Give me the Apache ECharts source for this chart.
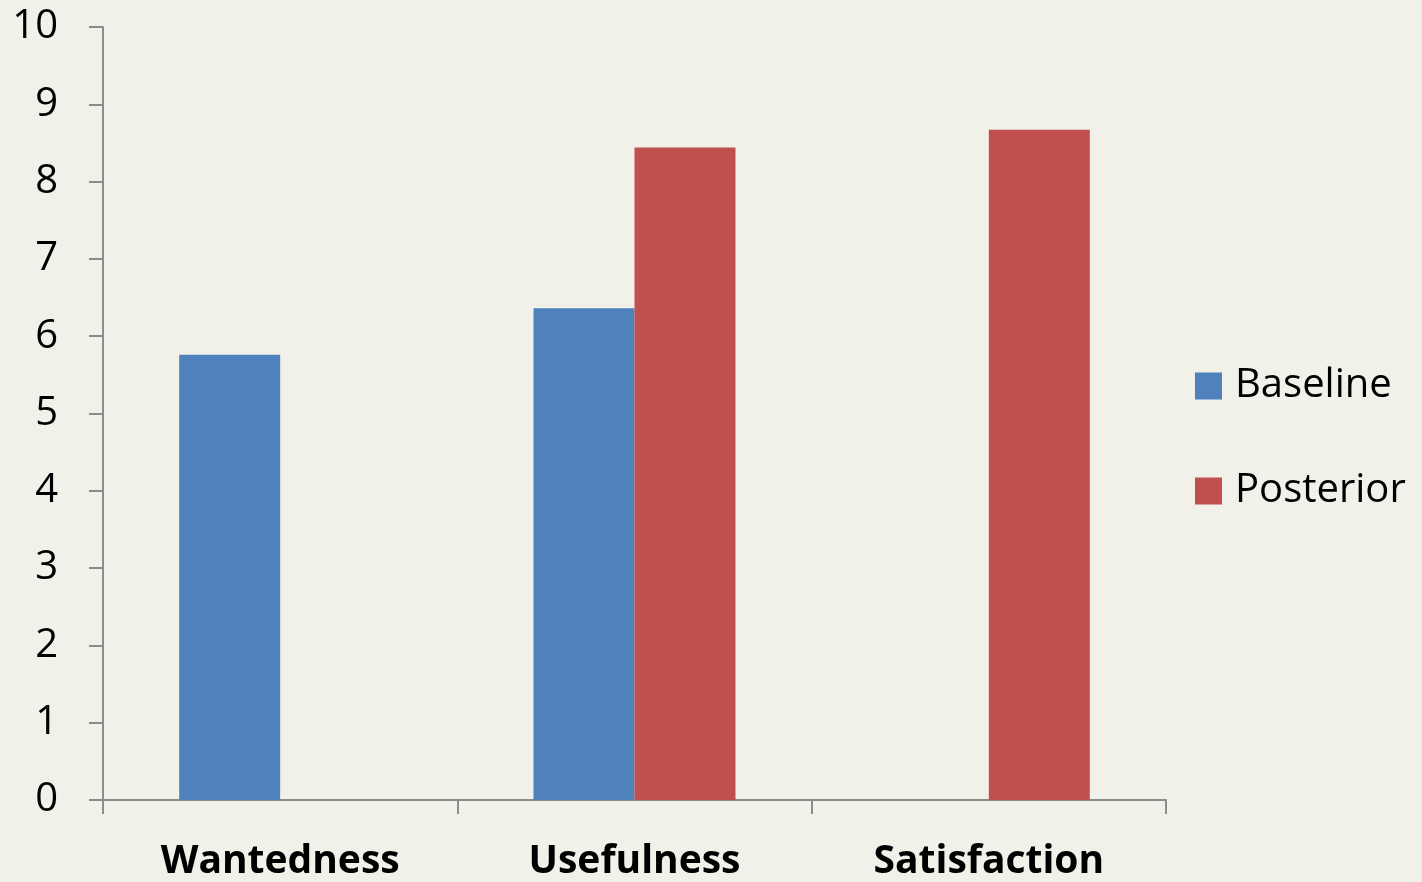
<!DOCTYPE html>
<html>
<head>
<meta charset="utf-8">
<script src="https://cdn.jsdelivr.net/npm/echarts@6/dist/echarts.min.js"></script>
<style>
  html, body { margin: 0; padding: 0; background: #f1f0e9; }
  #main { width: 1422px; height: 882px; }
</style>
</head>
<body>
<div id="main"></div>
<script>
var categories = ['Wantedness', 'Usefulness', 'Satisfaction'];
var baseline = [5.76, 6.36, null];
var posterior = [null, 8.44, 8.67];
var yTicks = [0, 10, 1];

var myChart = echarts.init(document.getElementById('main'));
var option = {
    backgroundColor: '#f1f0e9',
    animation: false,
    textStyle: { fontFamily: 'Open Sans' },
    grid: { left: 103, right: 256, top: 27, bottom: 82 },
    legend: {
        orient: 'vertical',
        left: 1190,
        top: 361,
        itemWidth: 27,
        itemHeight: 27,
        itemGap: 65,
        icon: 'rect',
        textStyle: { fontSize: 40, color: '#000', fontFamily: 'Open Sans', padding: [0, 0, 0, 8] },
        data: ['Baseline', 'Posterior']
    },
    xAxis: {
        type: 'category',
        data: categories,
        axisLine: { lineStyle: { color: '#8c8c8c', width: 2 } },
        axisTick: { show: true, length: 14, lineStyle: { color: '#8c8c8c', width: 2 } },
        axisLabel: { fontSize: 39, fontWeight: 'bold', color: '#000', margin: 42 }
    },
    yAxis: {
        type: 'value',
        min: yTicks[0],
        max: yTicks[1],
        interval: yTicks[2],
        splitLine: { show: false },
        axisLine: { show: true, lineStyle: { color: '#8c8c8c', width: 2 } },
        axisTick: { show: true, length: 14, lineStyle: { color: '#8c8c8c', width: 2 } },
        axisLabel: { fontSize: 40, color: '#000', margin: 45, padding: [4, 0, 0, 0] }
    },
    series: [
        {
            name: 'Baseline',
            type: 'bar',
            data: baseline,
            barGap: '0%',
            barCategoryGap: '43%',
            itemStyle: { color: '#4f81bd' }
        },
        {
            name: 'Posterior',
            type: 'bar',
            data: posterior,
            itemStyle: { color: '#c0504d' }
        }
    ]
};
myChart.setOption(option);
window.onresize = myChart.resize;
</script>
</body>
</html>
